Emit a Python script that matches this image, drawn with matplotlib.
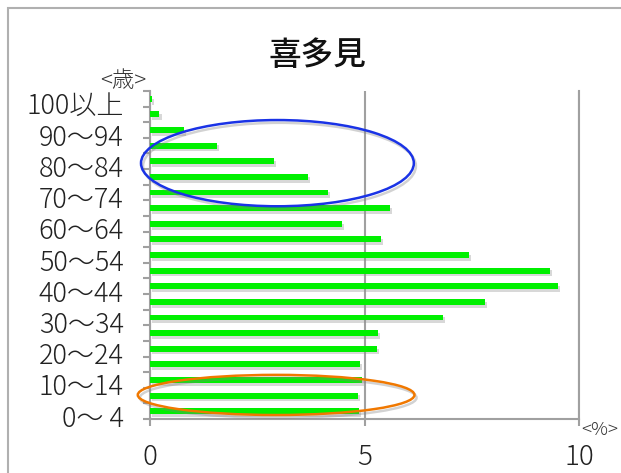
import matplotlib
matplotlib.use("Agg")
import matplotlib.pyplot as plt
import matplotlib.patheffects as pe
from matplotlib.patches import Ellipse, Rectangle
from matplotlib.transforms import ScaledTranslation
import numpy as np

plt.rcParams['font.family'] = ['Noto Sans CJK JP', 'DejaVu Sans']

title = "喜多見"
age_groups = ["0～ 4", "5～ 9", "10～14", "15～19", "20～24", "25～29", "30～34",
              "35～39", "40～44", "45～49", "50～54", "55～59", "60～64", "65～69",
              "70～74", "75～79", "80～84", "85～89", "90～94", "95～99", "100以上"]
shares = [4.87, 4.84, 4.94, 4.90, 5.29, 5.31, 6.82, 7.80, 9.51, 9.33, 7.43,
          5.39, 4.48, 5.59, 4.15, 3.69, 2.88, 1.57, 0.79, 0.22, 0.04]
x_ticks = [0, 5, 10]

fig = plt.figure(figsize=(6.21, 4.73), dpi=100)
W, H = 621, 473
ax = fig.add_axes([150 / W, 1 - 419 / H, (579 - 150) / W, (419 - 91) / H])

y = np.arange(len(age_groups))
shadow = [pe.SimplePatchShadow(offset=(1.5, -2), shadow_rgbFace='#909090', alpha=0.35),
          pe.Normal()]
bars = ax.barh(y, shares, height=0.38, color='#00f000', zorder=3)
for b in bars:
    b.set_path_effects(shadow)

ax.set_xlim(0, 10)
ax.set_ylim(-0.5, len(age_groups) - 0.5)

gray = '#a0a0a0'
ax.set_xticks(x_ticks)
ax.set_xticklabels([str(v) for v in x_ticks])
ax.xaxis.grid(True, color=gray, linewidth=1.5, zorder=1)
ax.set_axisbelow(True)

ax.set_yticks(y[::2])
ax.set_yticklabels(age_groups[::2])
ax.set_yticks(np.arange(-0.5, len(age_groups), 1.0), minor=True)
ax.tick_params(axis='y', which='major', length=0, pad=19, labelsize=19.5,
               labelcolor='#222222')
ax.tick_params(axis='y', which='minor', length=5, width=1.5, color=gray,
               direction='out')
ax.tick_params(axis='x', which='major', length=5, width=1.5, color=gray,
               direction='out', pad=12, labelsize=20, labelcolor='#222222')
shift = ScaledTranslation(0, -4.5 / 100, fig.dpi_scale_trans)
for lab in ax.get_yticklabels():
    lab.set_fontweight('light')
    lab.set_transform(lab.get_transform() + shift)
for lab in ax.get_xticklabels():
    lab.set_fontweight('light')

for s in ['left', 'bottom', 'right']:
    ax.spines[s].set_color(gray)
    ax.spines[s].set_linewidth(1.5)
ax.spines['top'].set_visible(False)

# annotation ellipses
e_shadow = [pe.SimpleLineShadow(offset=(1.5, -2), shadow_color='#808080', alpha=0.35),
            pe.Normal()]
blue = Ellipse((2.97, 15.88), 6.36, 5.52, fill=False, edgecolor='#1a33e6',
               linewidth=1.8, zorder=5, clip_on=False)
blue.set_path_effects(e_shadow)
ax.add_patch(blue)
orange = Ellipse((2.94, 1.04), 6.45, 2.57, fill=False, edgecolor='#f07800',
                 linewidth=1.8, zorder=5, clip_on=False)
orange.set_path_effects(e_shadow)
ax.add_patch(orange)

# texts
fig.text(317 / W, 1 - 55 / H, title, ha='center', va='center', fontsize=23.5,
         fontweight='medium', color='#111111')
fig.text(123 / W, 1 - 81 / H, "<歳>", ha='center', va='center', fontsize=16,
         fontweight='light', color='#333333')
fig.text(581 / W, 1 - 430 / H, "<%>", ha='left', va='center', fontsize=13.5,
         fontweight='light', color='#333333')

# outer frame
fig.add_artist(Rectangle((8 / W, -0.5), 2, 1.5 - 8 / H, transform=fig.transFigure,
                         fill=False, edgecolor='#b0b0b0', linewidth=1.5))

fig.savefig("out.png", dpi=100)
